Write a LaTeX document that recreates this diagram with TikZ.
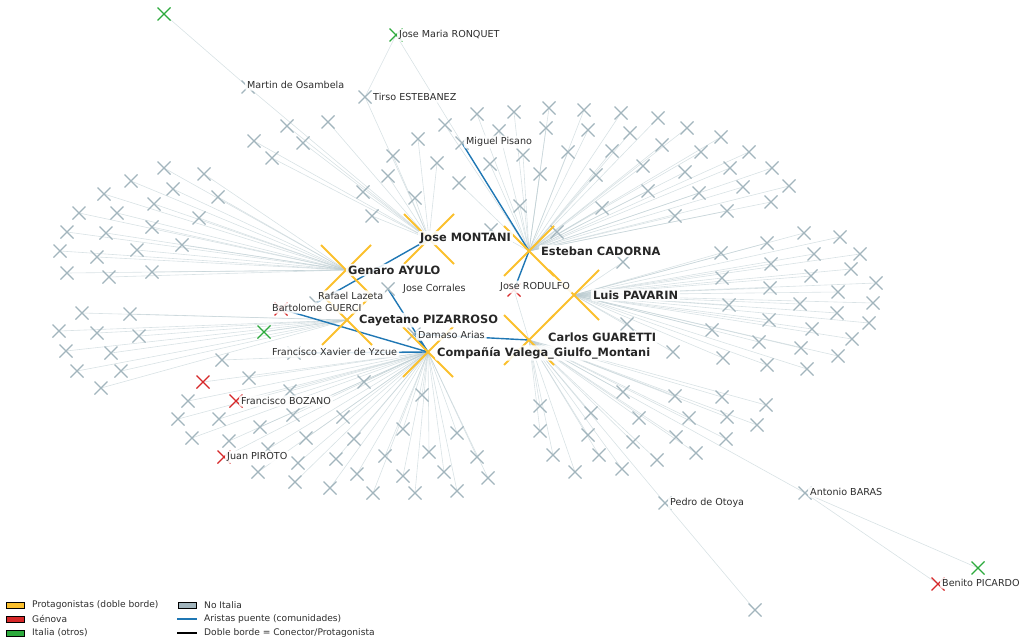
\documentclass[tikz,border=0pt]{standalone}
\usepackage{fontspec}
\setmainfont{DejaVu Sans}
\definecolor{ygold}{RGB}{251,192,45}
\definecolor{xgrey}{RGB}{162,181,189}
\definecolor{xred}{RGB}{214,39,40}
\definecolor{xgreen}{RGB}{44,170,60}
\definecolor{bridge}{RGB}{31,119,180}
\definecolor{edgec}{RGB}{185,202,207}
\definecolor{txt}{RGB}{45,45,45}
\tikzset{
 mk/.pic={\draw[line width=1.3pt] (-6.5,-6.5)--(6.5,6.5) (-6.5,6.5)--(6.5,-6.5);},
 bigmk/.pic={\draw[ygold,line width=1.8pt] (-25,-25)--(25,25) (-25,25)--(25,-25);},
 edge/.style={draw=edgec, line width=0.6pt, opacity=0.55},
 bedge/.style={draw=bridge, line width=1.4pt},
 lab/.style={anchor=west, fill=white, fill opacity=0.88, text opacity=1, rounded corners=2pt, inner xsep=2pt, inner ysep=1.8pt, font=\fontsize{9.6}{11}\selectfont, text=txt},
 blab/.style={lab, font=\fontsize{11.4}{13}\selectfont\bfseries, text=black!85},
 legtxt/.style={anchor=west, inner sep=0pt, font=\fontsize{9.1}{10}\selectfont, text=txt},
 patch/.style={draw=black, line width=0.6pt, minimum width=18pt, minimum height=6pt, inner sep=0pt},
}
\def\genlist{164/168,204/174,131/181,173/189,218/197,104/194,154/204,79/213,117/213,199/218,67/232,106/233,152/227,182/245,60/251,97/257,137/250,67/273,109/277,152/272}
\def\monlist{287/126,328/122,254/141,303/143,272/158,418/139,393/156,437/163,388/176,363/192,415/198,372/216}
\def\estlist{477/114,514/112,549/108,584/110,621/113,658/118,687/128,445/125,499/131,546/128,588/130,630/133,523/155,568/152,612/151,662/145,490/164,540/174,596/175,643/166,685/172,459/183,648/191,520/206,602/208,675/216,491/230,557/232,721/137,701/152,749/152,730/168,772/168,699/193,743/187,789/186,727/211,771/202}
\def\pavlist{623/262,804/233,840/237,767/243,721/253,814/254,860/254,771/264,722/278,811/276,851/269,876/283,770/288,838/292,729/305,800/304,873/303,837/313,769/320,869/323,712/330,812/329,852/339,759/342,801/348,838/356,723/358,767/365,807/369,627/324,673/352}
\def\gualist{722/397,766/405,727/417,689/418,757/425,726/439,696/453,623/392,675/396,540/406,591/413,639/418,540/431,588/435,676/437,633/442,553/455,599/455,657/460,575/472,622/469}
\def\comlist{364/382,422/395,403/429,457/433,354/439,429/452,385/456,477/457,403/476,444/472,488/478,373/493,415/493,457/491,222/360,249/378,290/391,188/401,178/419,219/419,293/415,343/417,260/427,192/438,229/441,306/438,268/449,336/459,298/463,258/472,357/474,295/482,330/488}
\def\caylist{82/313,130/314,59/331,97/333,139/336,66/351,111/353,77/371,121/371,101/388}
\begin{document}
\begin{tikzpicture}[x=1pt,y=-1pt]
\useasboundingbox (0,0) rectangle (1030,642);
% hubs
\coordinate (MON) at (429,239);
\coordinate (EST) at (529,251);
\coordinate (GEN) at (346,270);
\coordinate (PAV) at (574,295);
\coordinate (CAY) at (347,320);
\coordinate (GUA) at (529,340);
\coordinate (COM) at (428,352);
% labelled / special nodes
\coordinate (RON) at (396,35);
\coordinate (OSA) at (248,87);
\coordinate (TIR) at (365,97);
\coordinate (PIS) at (462,143);
\coordinate (COR) at (388,289);
\coordinate (LAZ) at (316,303);
\coordinate (GUE) at (281,309);
\coordinate (DAM) at (414,334);
\coordinate (YZC) at (294,353);
\coordinate (ROD) at (514,290);
\coordinate (BOZ) at (236,401);
\coordinate (PIR) at (224,457);
\coordinate (OTO) at (665,503);
\coordinate (BAR) at (805,493);
\coordinate (PIC) at (938,584);
\coordinate (gA) at (164,14);
\coordinate (gB) at (264,332);
\coordinate (gC) at (978,568);
\coordinate (rA) at (203,382);
\coordinate (xP) at (755,610);
% grey edges
\foreach \x/\y [count=\i] in \genlist {\coordinate (gen\i) at (\x,\y); \draw[edge] (gen\i) -- (GEN);}
\foreach \x/\y [count=\i] in \monlist {\coordinate (mon\i) at (\x,\y); \draw[edge] (mon\i) -- (MON);}
\foreach \x/\y [count=\i] in \estlist {\coordinate (est\i) at (\x,\y); \draw[edge] (est\i) -- (EST);}
\foreach \x/\y [count=\i] in \pavlist {\coordinate (pav\i) at (\x,\y); \draw[edge] (pav\i) -- (PAV);}
\foreach \x/\y [count=\i] in \gualist {\coordinate (gua\i) at (\x,\y); \draw[edge] (gua\i) -- (GUA);}
\foreach \x/\y [count=\i] in \comlist {\coordinate (com\i) at (\x,\y); \draw[edge] (com\i) -- (COM);}
\foreach \x/\y [count=\i] in \caylist {\coordinate (cay\i) at (\x,\y); \draw[edge] (cay\i) -- (CAY);}
\draw[edge] (gA) -- (OSA);
\draw[edge] (OSA) -- (MON);
\draw[edge] (RON) -- (TIR);
\draw[edge] (RON) -- (PIS);
\draw[edge] (TIR) -- (MON);
\draw[edge] (gB) -- (CAY);
\draw[edge] (rA) -- (COM);
\draw[edge] (BOZ) -- (COM);
\draw[edge] (PIR) -- (COM);
\draw[edge] (ROD) -- (GUA);
\draw[edge] (OTO) -- (GUA);
\draw[edge] (OTO) -- (xP);
\draw[edge] (BAR) -- (GUA);
\draw[edge] (BAR) -- (PIC);
\draw[edge] (BAR) -- (gC);
% bridge edges
\draw[bedge] (PIS) -- (EST);
\draw[bedge] (ROD) -- (EST);
\draw[bedge] (MON) -- (LAZ);
\draw[bedge] (COR) -- (COM);
\draw[bedge] (DAM) -- (COM);
\draw[bedge] (DAM) -- (GUA);
\draw[bedge] (GUE) -- (COM);
\draw[bedge] (YZC) -- (COM);
% grey markers
\foreach \x/\y [count=\i] in \genlist {\pic[xgrey] at (gen\i) {mk};}
\foreach \x/\y [count=\i] in \monlist {\pic[xgrey] at (mon\i) {mk};}
\foreach \x/\y [count=\i] in \estlist {\pic[xgrey] at (est\i) {mk};}
\foreach \x/\y [count=\i] in \pavlist {\pic[xgrey] at (pav\i) {mk};}
\foreach \x/\y [count=\i] in \gualist {\pic[xgrey] at (gua\i) {mk};}
\foreach \x/\y [count=\i] in \comlist {\pic[xgrey] at (com\i) {mk};}
\foreach \x/\y [count=\i] in \caylist {\pic[xgrey] at (cay\i) {mk};}
\foreach \n in {OSA,TIR,PIS,COR,LAZ,DAM,YZC,OTO,BAR,xP} {\pic[xgrey] at (\n) {mk};}
\foreach \n in {RON,gA,gB,gC} {\pic[xgreen] at (\n) {mk};}
\foreach \n in {GUE,ROD,BOZ,PIR,PIC,rA} {\pic[xred] at (\n) {mk};}
\foreach \n in {MON,EST,GEN,PAV,CAY,GUA,COM} {\pic at (\n) {bigmk};}
% labels
\node[lab] (lRON) at (397,35) {Jose Maria RONQUET};
\node[lab] (lOSA) at (245,85) {Martin de Osambela};
\node[lab] (lTIR) at (371,97) {Tirso ESTEBANEZ};
\node[lab] (lPIS) at (464,142) {Miguel Pisano};
\node[lab] (lCOR) at (401,289) {Jose Corrales};
\node[lab] (lLAZ) at (316,296) {Rafael Lazeta};
\node[lab] (lGUE) at (270,308) {Bartolome GUERCI};
\node[lab] (lDAM) at (416,335) {Damaso Arias};
\node[lab] (lYZC) at (270,352) {Francisco Xavier de Yzcue};
\node[lab] (lROD) at (498,287) {Jose RODULFO};
\node[lab] (lBOZ) at (239,401) {Francisco BOZANO};
\node[lab] (lPIR) at (225,457) {Juan PIROTO};
\node[lab] (lOTO) at (668,503) {Pedro de Otoya};
\node[lab] (lBAR) at (808,492) {Antonio BARAS};
\node[lab] (lPIC) at (940,583) {Benito PICARDO};
\node[blab] (lMON) at (418,238) {Jose MONTANI};
\node[blab] (lEST) at (539,251) {Esteban CADORNA};
\node[blab] (lGEN) at (346,270) {Genaro AYULO};
\node[blab] (lPAV) at (591,295) {Luis PAVARIN};
\node[blab] (lCAY) at (357,320) {Cayetano PIZARROSO};
\node[blab] (lGUA) at (546,337) {Carlos GUARETTI};
\node[blab] (lCOM) at (435,353) {Compañía Valega\_Giulfo\_Montani};
% legend
\node[patch, fill=ygold] (pY) at (15,605) {};
\node[patch, fill=xred] (pR) at (15,619) {};
\node[patch, fill=xgreen] (pG) at (15,633) {};
\node[patch, fill=xgrey] (pX) at (187,605) {};
\coordinate (bl1) at (177,619); \coordinate (bl2) at (197,619);
\coordinate (kl1) at (177,633); \coordinate (kl2) at (197,633);
\draw[bridge, line width=1.8pt] (bl1) -- (bl2);
\draw[black, line width=1.8pt] (kl1) -- (kl2);
\node[legtxt] (tY) at (32,605) {Protagonistas (doble borde)};
\node[legtxt] (tR) at (32,619) {Génova};
\node[legtxt] (tG) at (32,633) {Italia (otros)};
\node[legtxt] (tX) at (204,605) {No Italia};
\node[legtxt] (tB) at (204,619) {Aristas puente (comunidades)};
\node[legtxt] (tK) at (204,633) {Doble borde = Conector/Protagonista};
\end{tikzpicture}
\end{document}
